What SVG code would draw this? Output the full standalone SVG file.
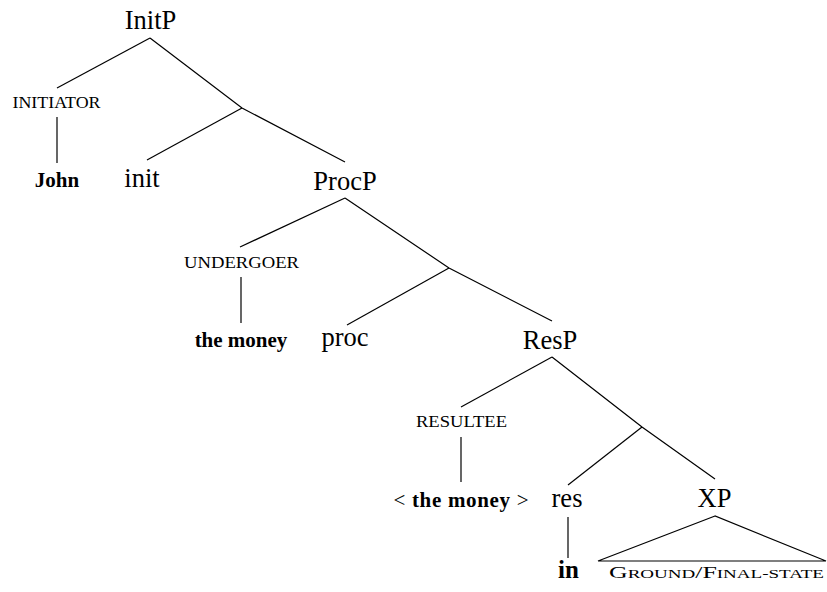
<svg xmlns="http://www.w3.org/2000/svg" width="827" height="592" viewBox="0 0 827 592">
<style>
  .lbl { font-family: "Liberation Serif", "Times New Roman", serif; font-size: 26.5px; fill: #000; text-anchor: middle; }
  .bold { font-family: "Liberation Serif", "Times New Roman", serif; font-weight: bold; font-size: 21px; fill: #000; text-anchor: middle; }
  .sc { font-family: "Liberation Serif", "Times New Roman", serif; font-size: 16px; fill: #000; text-anchor: middle; }
  .edges path, .edges line, .edges polygon { stroke: #000; stroke-width: 1.2; fill: none; }
</style>
<rect width="827" height="592" fill="#fff"/>
<g class="edges" id="connectors">
  <line x1="150" y1="38" x2="57" y2="88"/>
  <path d="M150,38 L242,108 L345,162"/>
  <line x1="242" y1="108" x2="147" y2="160"/>
  <line x1="57" y1="117" x2="57" y2="163"/>
  <line x1="345" y1="198" x2="240" y2="247"/>
  <path d="M345,198 L449,268 L552,321"/>
  <line x1="449" y1="268" x2="347" y2="325"/>
  <line x1="241" y1="277" x2="241" y2="323"/>
  <line x1="552" y1="357" x2="461" y2="407"/>
  <path d="M552,357 L642,427 L715,479"/>
  <line x1="642" y1="427" x2="568" y2="485"/>
  <line x1="461" y1="437" x2="461" y2="482"/>
  <line x1="568" y1="517" x2="568" y2="558"/>
  <polygon points="715,516 598,561 826,561"/>
</g>
<g id="initp"><text class="lbl" x="150.5" y="29">InitP</text></g>
<g id="initiator"><text class="sc" x="56.5" y="108" textLength="88" lengthAdjust="spacingAndGlyphs">INITIATOR</text></g>
<g id="john"><text class="bold" x="57" y="187">John</text></g>
<g id="init"><text class="lbl" x="142" y="187">init</text></g>
<g id="procp"><text class="lbl" x="345" y="190">ProcP</text></g>
<g id="undergoer"><text class="sc" x="241.5" y="268" textLength="115" lengthAdjust="spacingAndGlyphs">UNDERGOER</text></g>
<g id="themoney"><text class="bold" x="241" y="347">the money</text></g>
<g id="proc"><text class="lbl" x="345" y="346">proc</text></g>
<g id="resp"><text class="lbl" x="550" y="349">ResP</text></g>
<g id="resultee"><text class="sc" x="461.5" y="427" textLength="91" lengthAdjust="spacingAndGlyphs">RESULTEE</text></g>
<g id="themoney2"><text class="bold" x="461" y="507" textLength="135" lengthAdjust="spacing"><tspan font-weight="normal">&lt; </tspan>the money<tspan font-weight="normal"> &gt;</tspan></text></g>
<g id="res"><text class="lbl" x="567" y="507">res</text></g>
<g id="xp"><text class="lbl" x="714.5" y="507">XP</text></g>
<g id="in"><text class="bold" x="568.5" y="578" style="font-size:25px">in</text></g>
<g id="ground"><text class="sc" x="716.5" y="578" style="font-size:17px" textLength="215" lengthAdjust="spacingAndGlyphs">G<tspan style="font-size:12.5px">ROUND</tspan>/F<tspan style="font-size:12.5px">INAL-STATE</tspan></text></g>
</svg>
